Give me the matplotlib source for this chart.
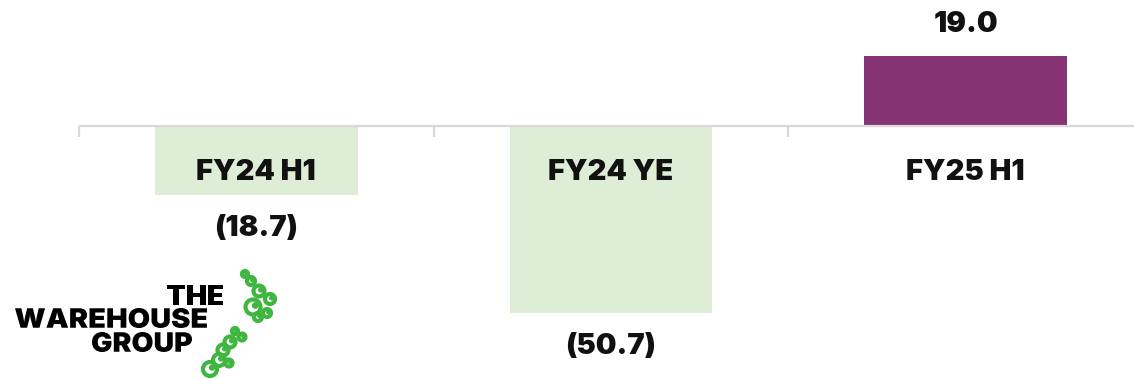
import matplotlib.pyplot as plt
from matplotlib.patches import Circle, PathPatch
from matplotlib.textpath import TextPath
from matplotlib.font_manager import FontProperties
from matplotlib.transforms import Affine2D

# data
categories = ['FY24 H1', 'FY24 YE', 'FY25 H1']
values = [-18.7, -50.7, 19.0]
value_labels = ['(18.7)', '(50.7)', '19.0']
bar_colors = ['#ddedd6', '#ddedd6', '#853372']

FONT = ['Inter', 'DejaVu Sans']
W, H = 1134, 379

fig = plt.figure(figsize=(W / 100, H / 100), dpi=100)
ax = fig.add_axes([0, 0, 1, 1])

x = list(range(len(categories)))
ax.bar(x, values, width=0.572, color=bar_colors, zorder=2)

# baseline with category separators
ax.hlines(0, -0.5, len(categories) - 0.5, color='#d9d9d9', lw=1.6, zorder=3)
ax.vlines([i - 0.5 for i in x], -3.0, 0, color='#d9d9d9', lw=1.6, zorder=3)

for i, (cat, v, lab) in enumerate(zip(categories, values, value_labels)):
    ax.text(i, -12.5, cat, ha='center', va='center', fontsize=21,
            fontweight=900, family=FONT, color='#111111', zorder=4)
    off = 23 if v > 0 else -24.5
    ax.annotate(lab, xy=(i, v), xytext=(0, off), textcoords='offset points',
                ha='center', va='center', fontsize=21, fontweight=900,
                family=FONT, color='#111111')

ax.set_xlim(-0.7227, 2.4744)
ax.set_ylim(-68.7, 34.2)
ax.axis('off')

# logo: The Warehouse Group (text fitted into pixel boxes)
logo_prop = FontProperties(family='Inter', weight=900)
logo_words = [('THE', 167, 223, 285, 305),
              ('WAREHOUSE', 15, 207, 308, 328),
              ('GROUP', 92, 192, 332, 352)]
for word, x0, x1, y0, y1 in logo_words:
    tp = TextPath((0, 0), word, size=1, prop=logo_prop)
    ext = tp.get_extents()
    tr = (Affine2D().translate(-ext.x0, -ext.y0)
          .scale((x1 - x0) / ext.width, (y1 - y0) / ext.height)
          .translate(x0, H - y1))
    fig.patches.append(PathPatch(tr.transform_path(tp), transform=None,
                                 color='black', lw=0))

green = '#3fb63f'
koru = [(245, 274, 3), (251, 281, 4), (259, 291, 5.5), (270, 299, 5), (253, 307, 7.5),
        (267, 313, 4), (258, 317, 4),
        (235, 331, 3), (242, 337, 3.5), (230, 342, 5.5), (223, 350, 5.5), (219, 360, 6),
        (210, 369, 7), (229, 363, 3.5)]
for cx, cy, r in koru:
    fig.patches.append(Circle((cx, H - cy), r, transform=None, fill=False,
                              edgecolor=green, lw=3.0))
    fig.patches.append(Circle((cx + r * 0.3, H - cy + r * 0.2), r * 0.35, transform=None,
                              color=green))

fig.savefig('out.png', dpi=100)
